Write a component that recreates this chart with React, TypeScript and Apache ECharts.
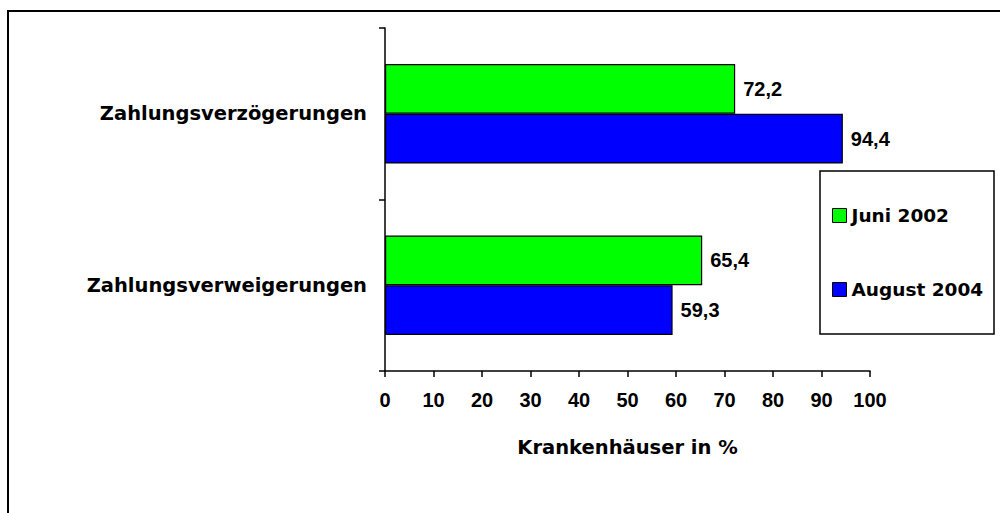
import React, { useEffect, useRef } from "react";
import * as echarts from "echarts";

const categories = ["Zahlungsverzögerungen", "Zahlungsverweigerungen"];
const seriesNames = ["Juni 2002", "August 2004"];
const juni2002 = [72.2, 65.4];
const august2004 = [94.4, 59.3];
const seriesColors = ["#00FF00", "#0000FF"];
const xTitle = "Krankenhäuser in %";

const wordFont = "DejaVu Sans";
const numFont = "Liberation Sans";

export default function App() {
  const ref = useRef<HTMLDivElement>(null);
  useEffect(() => {
    if (!ref.current) return;
    const chart = echarts.init(ref.current, null, { renderer: "svg" });
    const values = [juni2002, august2004];
    chart.setOption({
      animation: false,
      backgroundColor: "#ffffff",
      grid: { left: 385, top: 28, right: 130, bottom: 142, containLabel: false },
      xAxis: {
        type: "value",
        min: 0,
        max: 100,
        interval: 10,
        name: xTitle,
        nameLocation: "middle",
        nameGap: 66,
        nameTextStyle: { fontFamily: wordFont, fontWeight: "bold", fontSize: 19.5, color: "#000" },
        axisLine: { show: true, lineStyle: { color: "#000", width: 1.5 } },
        axisTick: { show: true, length: 6, lineStyle: { color: "#000", width: 1.5 } },
        axisLabel: { margin: 19, fontFamily: numFont, fontWeight: "bold", fontSize: 20, color: "#000" },
        splitLine: { show: false },
      },
      yAxis: {
        type: "category",
        data: categories,
        inverse: true,
        axisLine: { show: true, lineStyle: { color: "#000", width: 1.5 } },
        axisTick: { show: true, length: 6, lineStyle: { color: "#000", width: 1.5 } },
        axisLabel: { margin: 18, fontFamily: wordFont, fontWeight: "bold", fontSize: 19.5, color: "#000" },
      },
      legend: {
        orient: "vertical",
        left: 832,
        top: 206,
        itemGap: 55,
        itemWidth: 14,
        itemHeight: 14,
        icon: "rect",
        padding: 0,
        itemStyle: { borderColor: "#000", borderWidth: 1 },
        textStyle: { fontFamily: wordFont, fontWeight: "bold", fontSize: 18.5, color: "#000" },
        data: seriesNames,
      },
      graphic: [
        {
          type: "rect",
          shape: { x: 8, y: 11, width: 1100, height: 600 },
          style: { fill: "none", stroke: "#000", lineWidth: 2 },
          silent: true,
          z: -1,
        },
        {
          type: "rect",
          shape: { x: 820, y: 171, width: 174, height: 163 },
          style: { fill: "#fff", stroke: "#000", lineWidth: 1.5 },
          silent: true,
          z: 0,
        },
      ],
      series: seriesNames.map((name, i) => ({
        name,
        type: "bar",
        data: values[i],
        barGap: "0%",
        barCategoryGap: "42%",
        itemStyle: { color: seriesColors[i], borderColor: "#000", borderWidth: 1.2 },
        label: {
          show: true,
          position: "right",
          distance: 8,
          formatter: (p: any) => String(p.value).replace(".", ","),
          fontFamily: numFont,
          fontWeight: "bold",
          fontSize: 20,
          color: "#000",
        },
      })),
    });
    return () => chart.dispose();
  }, []);
  return (
    <div
      ref={ref}
      style={{ position: "fixed", left: 0, top: 0, width: 1000, height: 513 }}
    />
  );
}
